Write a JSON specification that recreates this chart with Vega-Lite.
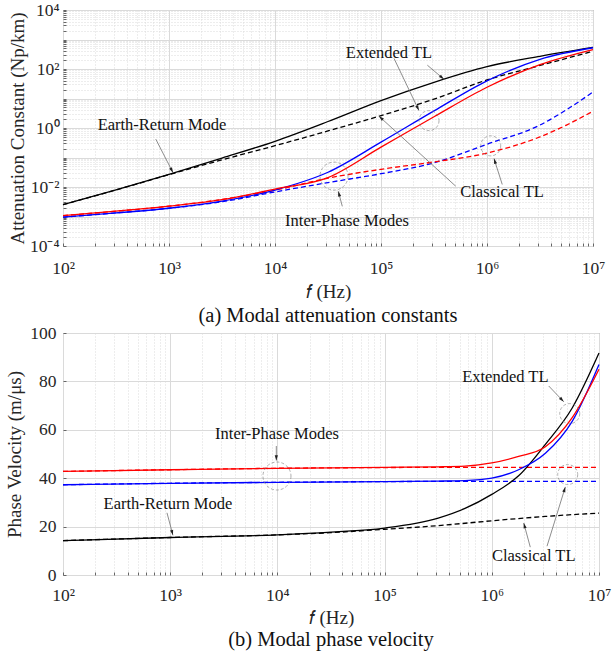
{
  "$schema": "https://vega.github.io/schema/vega-lite/v6.json",
  "background": "white",
  "padding": {"left": 5, "top": 0, "right": 6, "bottom": 0},
  "spacing": 87,
  "bounds": "flush",
  "config": {
    "font": "Liberation Serif",
    "view": {"stroke": "#7a7a7a", "strokeWidth": 1},
    "axis": {
      "labelFont": "Liberation Serif", "titleFont": "Liberation Serif",
      "labelColor": "#262626", "titleColor": "#262626", "titleFontWeight": "normal",
      "labelFontSize": 17.5, "titleFontSize": 19, "domain": false,
      "gridColor": "#dadada", "tickColor": "#666666", "tickSize": -3,
      "labelOverlap": false, "labelFlush": false
    },
    "title": {"font": "Liberation Serif", "fontSize": 20.5, "fontWeight": "normal", "color": "#111111", "orient": "bottom"}
  },
  "datasets": {
    "att": [
      {"f":100,"a":0.002512,"mode":"ER","model":"Extended"},
      {"f":316.2,"a":0.007943,"mode":"ER","model":"Extended"},
      {"f":1000,"a":0.02692,"mode":"ER","model":"Extended"},
      {"f":3162,"a":0.0955,"mode":"ER","model":"Extended"},
      {"f":10000,"a":0.3548,"mode":"ER","model":"Extended"},
      {"f":31623,"a":1.66,"mode":"ER","model":"Extended"},
      {"f":100000,"a":8.511,"mode":"ER","model":"Extended"},
      {"f":316228,"a":35.48,"mode":"ER","model":"Extended"},
      {"f":1000000,"a":120.2,"mode":"ER","model":"Extended"},
      {"f":3162278,"a":269.2,"mode":"ER","model":"Extended"},
      {"f":10000000,"a":537.0,"mode":"ER","model":"Extended"},
      {"f":100,"a":0.002512,"mode":"ER","model":"Classical"},
      {"f":316.2,"a":0.007943,"mode":"ER","model":"Classical"},
      {"f":1000,"a":0.0263,"mode":"ER","model":"Classical"},
      {"f":3162,"a":0.0832,"mode":"ER","model":"Classical"},
      {"f":10000,"a":0.2512,"mode":"ER","model":"Classical"},
      {"f":31623,"a":0.7943,"mode":"ER","model":"Classical"},
      {"f":100000,"a":2.63,"mode":"ER","model":"Classical"},
      {"f":316228,"a":9.55,"mode":"ER","model":"Classical"},
      {"f":1000000,"a":42.66,"mode":"ER","model":"Classical"},
      {"f":3162278,"a":131.8,"mode":"ER","model":"Classical"},
      {"f":10000000,"a":398.1,"mode":"ER","model":"Classical"},
      {"f":100,"a":0.000955,"mode":"IP1","model":"Extended"},
      {"f":316.2,"a":0.001318,"mode":"IP1","model":"Extended"},
      {"f":1000,"a":0.001905,"mode":"IP1","model":"Extended"},
      {"f":3162,"a":0.003311,"mode":"IP1","model":"Extended"},
      {"f":10000,"a":0.0079,"mode":"IP1","model":"Extended"},
      {"f":31623,"a":0.03162,"mode":"IP1","model":"Extended"},
      {"f":100000,"a":0.3311,"mode":"IP1","model":"Extended"},
      {"f":316228,"a":3.802,"mode":"IP1","model":"Extended"},
      {"f":1000000,"a":39.81,"mode":"IP1","model":"Extended"},
      {"f":3162278,"a":213.8,"mode":"IP1","model":"Extended"},
      {"f":10000000,"a":524.8,"mode":"IP1","model":"Extended"},
      {"f":100,"a":0.001072,"mode":"IP2","model":"Extended"},
      {"f":316.2,"a":0.001514,"mode":"IP2","model":"Extended"},
      {"f":1000,"a":0.002239,"mode":"IP2","model":"Extended"},
      {"f":3162,"a":0.003715,"mode":"IP2","model":"Extended"},
      {"f":10000,"a":0.0085,"mode":"IP2","model":"Extended"},
      {"f":31623,"a":0.02089,"mode":"IP2","model":"Extended"},
      {"f":100000,"a":0.2239,"mode":"IP2","model":"Extended"},
      {"f":316228,"a":2.399,"mode":"IP2","model":"Extended"},
      {"f":1000000,"a":23.99,"mode":"IP2","model":"Extended"},
      {"f":3162278,"a":141.3,"mode":"IP2","model":"Extended"},
      {"f":10000000,"a":457.1,"mode":"IP2","model":"Extended"},
      {"f":100,"a":0.000955,"mode":"IP1","model":"Classical"},
      {"f":316.2,"a":0.001318,"mode":"IP1","model":"Classical"},
      {"f":1000,"a":0.001905,"mode":"IP1","model":"Classical"},
      {"f":3162,"a":0.003162,"mode":"IP1","model":"Classical"},
      {"f":10000,"a":0.0068,"mode":"IP1","model":"Classical"},
      {"f":31623,"a":0.01413,"mode":"IP1","model":"Classical"},
      {"f":100000,"a":0.02818,"mode":"IP1","model":"Classical"},
      {"f":316228,"a":0.06607,"mode":"IP1","model":"Classical"},
      {"f":1000000,"a":0.2818,"mode":"IP1","model":"Classical"},
      {"f":3162278,"a":1.259,"mode":"IP1","model":"Classical"},
      {"f":5623413,"a":4.169,"mode":"IP1","model":"Classical"},
      {"f":10000000,"a":16.6,"mode":"IP1","model":"Classical"},
      {"f":100,"a":0.001072,"mode":"IP2","model":"Classical"},
      {"f":316.2,"a":0.001514,"mode":"IP2","model":"Classical"},
      {"f":1000,"a":0.002239,"mode":"IP2","model":"Classical"},
      {"f":3162,"a":0.003802,"mode":"IP2","model":"Classical"},
      {"f":10000,"a":0.0078,"mode":"IP2","model":"Classical"},
      {"f":31623,"a":0.01995,"mode":"IP2","model":"Classical"},
      {"f":100000,"a":0.03981,"mode":"IP2","model":"Classical"},
      {"f":316228,"a":0.07079,"mode":"IP2","model":"Classical"},
      {"f":1000000,"a":0.1413,"mode":"IP2","model":"Classical"},
      {"f":3162278,"a":0.5012,"mode":"IP2","model":"Classical"},
      {"f":5623413,"a":1.259,"mode":"IP2","model":"Classical"},
      {"f":10000000,"a":3.715,"mode":"IP2","model":"Classical"}
    ],
    "vel": [
      {"f":100,"v":14.2,"mode":"ER","model":"Extended"},
      {"f":1000,"v":15.5,"mode":"ER","model":"Extended"},
      {"f":10000,"v":16.6,"mode":"ER","model":"Extended"},
      {"f":31623,"v":17.7,"mode":"ER","model":"Extended"},
      {"f":100000,"v":19.4,"mode":"ER","model":"Extended"},
      {"f":316228,"v":23.5,"mode":"ER","model":"Extended"},
      {"f":562341,"v":27.5,"mode":"ER","model":"Extended"},
      {"f":1000000,"v":33.3,"mode":"ER","model":"Extended"},
      {"f":1778279,"v":41,"mode":"ER","model":"Extended"},
      {"f":3162278,"v":54,"mode":"ER","model":"Extended"},
      {"f":5623413,"v":69,"mode":"ER","model":"Extended"},
      {"f":10000000,"v":91.7,"mode":"ER","model":"Extended"},
      {"f":100,"v":14.2,"mode":"ER","model":"Classical"},
      {"f":1000,"v":15.5,"mode":"ER","model":"Classical"},
      {"f":10000,"v":16.6,"mode":"ER","model":"Classical"},
      {"f":31623,"v":17.5,"mode":"ER","model":"Classical"},
      {"f":100000,"v":18.9,"mode":"ER","model":"Classical"},
      {"f":316228,"v":20.4,"mode":"ER","model":"Classical"},
      {"f":1000000,"v":22.4,"mode":"ER","model":"Classical"},
      {"f":3162278,"v":24.2,"mode":"ER","model":"Classical"},
      {"f":10000000,"v":25.6,"mode":"ER","model":"Classical"},
      {"f":100,"v":37.3,"mode":"IP1","model":"Extended"},
      {"f":1000,"v":37.9,"mode":"IP1","model":"Extended"},
      {"f":10000,"v":38.3,"mode":"IP1","model":"Extended"},
      {"f":100000,"v":38.6,"mode":"IP1","model":"Extended"},
      {"f":316228,"v":38.8,"mode":"IP1","model":"Extended"},
      {"f":562341,"v":39.0,"mode":"IP1","model":"Extended"},
      {"f":1000000,"v":40.0,"mode":"IP1","model":"Extended"},
      {"f":1778279,"v":43.5,"mode":"IP1","model":"Extended"},
      {"f":3162278,"v":50.3,"mode":"IP1","model":"Extended"},
      {"f":5623413,"v":63.5,"mode":"IP1","model":"Extended"},
      {"f":10000000,"v":87,"mode":"IP1","model":"Extended"},
      {"f":100,"v":42.8,"mode":"IP2","model":"Extended"},
      {"f":1000,"v":43.5,"mode":"IP2","model":"Extended"},
      {"f":10000,"v":44.1,"mode":"IP2","model":"Extended"},
      {"f":100000,"v":44.5,"mode":"IP2","model":"Extended"},
      {"f":316228,"v":44.7,"mode":"IP2","model":"Extended"},
      {"f":562341,"v":45.0,"mode":"IP2","model":"Extended"},
      {"f":1000000,"v":46.3,"mode":"IP2","model":"Extended"},
      {"f":1778279,"v":49,"mode":"IP2","model":"Extended"},
      {"f":3162278,"v":53,"mode":"IP2","model":"Extended"},
      {"f":5623413,"v":65,"mode":"IP2","model":"Extended"},
      {"f":10000000,"v":85,"mode":"IP2","model":"Extended"},
      {"f":100,"v":37.3,"mode":"IP1","model":"Classical"},
      {"f":1000,"v":37.9,"mode":"IP1","model":"Classical"},
      {"f":10000,"v":38.3,"mode":"IP1","model":"Classical"},
      {"f":100000,"v":38.6,"mode":"IP1","model":"Classical"},
      {"f":1000000,"v":38.7,"mode":"IP1","model":"Classical"},
      {"f":10000000,"v":38.7,"mode":"IP1","model":"Classical"},
      {"f":100,"v":42.8,"mode":"IP2","model":"Classical"},
      {"f":1000,"v":43.5,"mode":"IP2","model":"Classical"},
      {"f":10000,"v":44.1,"mode":"IP2","model":"Classical"},
      {"f":100000,"v":44.4,"mode":"IP2","model":"Classical"},
      {"f":1000000,"v":44.5,"mode":"IP2","model":"Classical"},
      {"f":10000000,"v":44.5,"mode":"IP2","model":"Classical"}
    ],
    "att_text": [
      {"f":118850,"a":339,"label":"Extended TL"},
      {"f":1387000,"a":0.00702,"label":"Classical TL"},
      {"f":47750,"a":0.000716,"label":"Inter-Phase Modes"},
      {"f":859,"a":1.268,"label":"Earth-Return Mode"}
    ],
    "att_arrow": [
      {"f":273500,"a":134.9,"f2":392700,"a2":44.8},
      {"f":132700,"a":228.6,"f2":228000,"a2":3.9},
      {"f":507000,"a":0.01064,"f2":95700,"a2":2.512},
      {"f":1393000,"a":0.01216,"f2":1164000,"a2":0.092},
      {"f":43150,"a":0.002208,"f2":39540,"a2":0.00718},
      {"f":750,"a":0.4207,"f2":1091,"a2":0.03055}
    ],
    "att_circle": [
      {"f":283800,"a":1.778,"kind":"small"},
      {"f":1084000,"a":0.2483,"kind":"small"},
      {"f":36060,"a":0.02339,"kind":"large"}
    ],
    "vel_text": [
      {"f":1337000,"v":81.9,"label":"Extended TL"},
      {"f":2460000,"v":7.74,"label":"Classical TL"},
      {"f":9908,"v":58.1,"label":"Inter-Phase Modes"},
      {"f":953,"v":29.4,"label":"Earth-Return Mode"}
    ],
    "vel_arrow": [
      {"f":3396000,"v":78.1,"f2":4690000,"v2":71.6},
      {"f":2286000,"v":11.5,"f2":1986000,"v2":21.5},
      {"f":3273000,"v":11.9,"f2":4853000,"v2":36.4},
      {"f":9772,"v":53.3,"f2":9772,"v2":47.3},
      {"f":933,"v":25.7,"f2":1061,"v2":16.4}
    ],
    "vel_circle": [
      {"f":5333000,"v":66.7,"kind":"small"},
      {"f":5105000,"v":41.5,"kind":"small"},
      {"f":9908,"v":40.9,"kind":"large"}
    ]
  },
  "vconcat": [
    {
      "name": "pa",
      "width": 530,
      "height": 236,
      "title": {"text": "(a) Modal attenuation constants", "offset": 4},
      "encoding": {
        "x": {"type": "quantitative",
          "scale": {"type": "log", "domain": [100, 10000000]},
          "axis": {
            "title": "𝑓 (Hz)",
            "values": [100,200,300,400,500,600,700,800,900,1000,2000,3000,4000,5000,6000,7000,8000,9000,10000,20000,30000,40000,50000,60000,70000,80000,90000,100000,200000,300000,400000,500000,600000,700000,800000,900000,1000000,2000000,3000000,4000000,5000000,6000000,7000000,8000000,9000000,10000000],
            "labelExpr": "datum.value == 100 ? '10²' : datum.value == 1000 ? '10³' : datum.value == 10000 ? '10⁴' : datum.value == 100000 ? '10⁵' : datum.value == 1000000 ? '10⁶' : datum.value == 10000000 ? '10⁷' : ''",
            "gridDash": {"condition": {"test": "indexof([100,1000,10000,100000,1000000,10000000], datum.value) >= 0", "value": []}, "value": [1, 2]},
            "labelPadding": 16, "titlePadding": 6
          }},
        "y": {"type": "quantitative",
          "scale": {"type": "log", "domain": [0.0001, 10000]},
          "axis": {
            "title": "Attenuation Constant (Np/km)",
            "values": [0.0001,0.0002,0.0003,0.0004,0.0005,0.0006,0.0007,0.0008,0.0009,0.001,0.002,0.003,0.004,0.005,0.006,0.007,0.008,0.009,0.01,0.02,0.03,0.04,0.05,0.06,0.07,0.08,0.09,0.1,0.2,0.3,0.4,0.5,0.6,0.7,0.8,0.9,1,2,3,4,5,6,7,8,9,10,20,30,40,50,60,70,80,90,100,200,300,400,500,600,700,800,900,1000,2000,3000,4000,5000,6000,7000,8000,9000,10000],
            "labelExpr": "datum.value == 0.0001 ? '10⁻⁴' : datum.value == 0.01 ? '10⁻²' : datum.value == 1 ? '10⁰' : datum.value == 100 ? '10²' : datum.value == 10000 ? '10⁴' : ''",
            "gridDash": {"condition": {"test": "indexof([0.0001,0.001,0.01,0.1,1,10,100,1000,10000], datum.value) >= 0", "value": []}, "value": [1, 2]},
            "labelPadding": 7, "titlePadding": 2
          }}
      },
      "layer": [
        {
          "data": {"name": "att"},
          "transform": [{"filter": "datum.model == 'Classical'"}],
          "mark": {"type": "line", "strokeWidth": 1.3, "strokeDash": [5, 3], "interpolate": "monotone"},
          "encoding": {
            "x": {"field": "f"},
            "y": {"field": "a"},
            "color": {"field": "mode", "scale": {"domain": ["ER", "IP1", "IP2"], "range": ["#000000", "#0000ff", "#ff0000"]}, "legend": null}
          }
        },
        {
          "data": {"name": "att"},
          "transform": [{"filter": "datum.model == 'Extended'"}],
          "mark": {"type": "line", "strokeWidth": 1.3, "interpolate": "monotone"},
          "encoding": {
            "x": {"field": "f"},
            "y": {"field": "a"},
            "color": {"field": "mode", "legend": null}
          }
        },
        {
          "data": {"name": "att_circle"},
          "mark": {"type": "point", "shape": "circle", "filled": false, "stroke": "#808080", "strokeWidth": 0.9, "strokeDash": [3, 2]},
          "encoding": {
            "x": {"field": "f"},
            "y": {"field": "a"},
            "size": {"field": "kind", "type": "nominal", "scale": {"domain": ["small", "large"], "range": [400, 784]}, "legend": null}
          }
        },
        {
          "data": {"name": "att_arrow"},
          "mark": {"type": "rule", "color": "#707070", "strokeWidth": 0.8},
          "encoding": {
            "x": {"field": "f"},
            "x2": {"field": "f2"},
            "y": {"field": "a"},
            "y2": {"field": "a2"}
          }
        },
        {
          "data": {"name": "att_arrow"},
          "mark": {"type": "point", "shape": "M0,0L-0.45,1.5L0.45,1.5Z", "filled": true, "color": "#222222", "opacity": 1, "size": 50,
            "angle": {"expr": "atan2(scale('pa_x', datum.f2) - scale('pa_x', datum.f), scale('pa_y', datum.a) - scale('pa_y', datum.a2)) * 180 / PI"}},
          "encoding": {
            "x": {"field": "f2"},
            "y": {"field": "a2"}
          }
        },
        {
          "data": {"name": "att_text"},
          "mark": {"type": "text", "font": "Liberation Serif", "fontSize": 16.5, "color": "#111111", "align": "center", "baseline": "middle"},
          "encoding": {
            "x": {"field": "f"},
            "y": {"field": "a"},
            "text": {"field": "label"}
          }
        }
      ]
    },
    {
      "name": "pb",
      "width": 536,
      "height": 242,
      "title": {"text": "(b) Modal phase velocity", "offset": 2},
      "encoding": {
        "x": {"type": "quantitative",
          "scale": {"type": "log", "domain": [100, 10000000]},
          "axis": {
            "title": "𝑓 (Hz)",
            "values": [100,200,300,400,500,600,700,800,900,1000,2000,3000,4000,5000,6000,7000,8000,9000,10000,20000,30000,40000,50000,60000,70000,80000,90000,100000,200000,300000,400000,500000,600000,700000,800000,900000,1000000,2000000,3000000,4000000,5000000,6000000,7000000,8000000,9000000,10000000],
            "labelExpr": "datum.value == 100 ? '10²' : datum.value == 1000 ? '10³' : datum.value == 10000 ? '10⁴' : datum.value == 100000 ? '10⁵' : datum.value == 1000000 ? '10⁶' : datum.value == 10000000 ? '10⁷' : ''",
            "gridDash": {"condition": {"test": "indexof([100,1000,10000,100000,1000000,10000000], datum.value) >= 0", "value": []}, "value": [1, 2]},
            "labelPadding": 14, "titlePadding": 5
          }},
        "y": {"type": "quantitative",
          "scale": {"domain": [0, 100]},
          "axis": {
            "title": "Phase Velocity (m/μs)",
            "values": [0, 20, 40, 60, 80, 100],
            "labelPadding": 10, "titlePadding": 5
          }}
      },
      "layer": [
        {
          "data": {"name": "vel"},
          "transform": [{"filter": "datum.model == 'Classical'"}],
          "mark": {"type": "line", "strokeWidth": 1.3, "strokeDash": [5, 3], "interpolate": "monotone"},
          "encoding": {
            "x": {"field": "f"},
            "y": {"field": "v"},
            "color": {"field": "mode", "scale": {"domain": ["ER", "IP1", "IP2"], "range": ["#000000", "#0000ff", "#ff0000"]}, "legend": null}
          }
        },
        {
          "data": {"name": "vel"},
          "transform": [{"filter": "datum.model == 'Extended'"}],
          "mark": {"type": "line", "strokeWidth": 1.3, "interpolate": "monotone"},
          "encoding": {
            "x": {"field": "f"},
            "y": {"field": "v"},
            "color": {"field": "mode", "legend": null}
          }
        },
        {
          "data": {"name": "vel_circle"},
          "mark": {"type": "point", "shape": "circle", "filled": false, "stroke": "#808080", "strokeWidth": 0.9, "strokeDash": [3, 2]},
          "encoding": {
            "x": {"field": "f"},
            "y": {"field": "v"},
            "size": {"field": "kind", "type": "nominal", "scale": {"domain": ["small", "large"], "range": [484, 900]}, "legend": null}
          }
        },
        {
          "data": {"name": "vel_arrow"},
          "mark": {"type": "rule", "color": "#707070", "strokeWidth": 0.8},
          "encoding": {
            "x": {"field": "f"},
            "x2": {"field": "f2"},
            "y": {"field": "v"},
            "y2": {"field": "v2"}
          }
        },
        {
          "data": {"name": "vel_arrow"},
          "mark": {"type": "point", "shape": "M0,0L-0.45,1.5L0.45,1.5Z", "filled": true, "color": "#222222", "opacity": 1, "size": 50,
            "angle": {"expr": "atan2(scale('pb_x', datum.f2) - scale('pb_x', datum.f), scale('pb_y', datum.v) - scale('pb_y', datum.v2)) * 180 / PI"}},
          "encoding": {
            "x": {"field": "f2"},
            "y": {"field": "v2"}
          }
        },
        {
          "data": {"name": "vel_text"},
          "mark": {"type": "text", "font": "Liberation Serif", "fontSize": 16.5, "color": "#111111", "align": "center", "baseline": "middle"},
          "encoding": {
            "x": {"field": "f"},
            "y": {"field": "v"},
            "text": {"field": "label"}
          }
        }
      ]
    }
  ]
}
